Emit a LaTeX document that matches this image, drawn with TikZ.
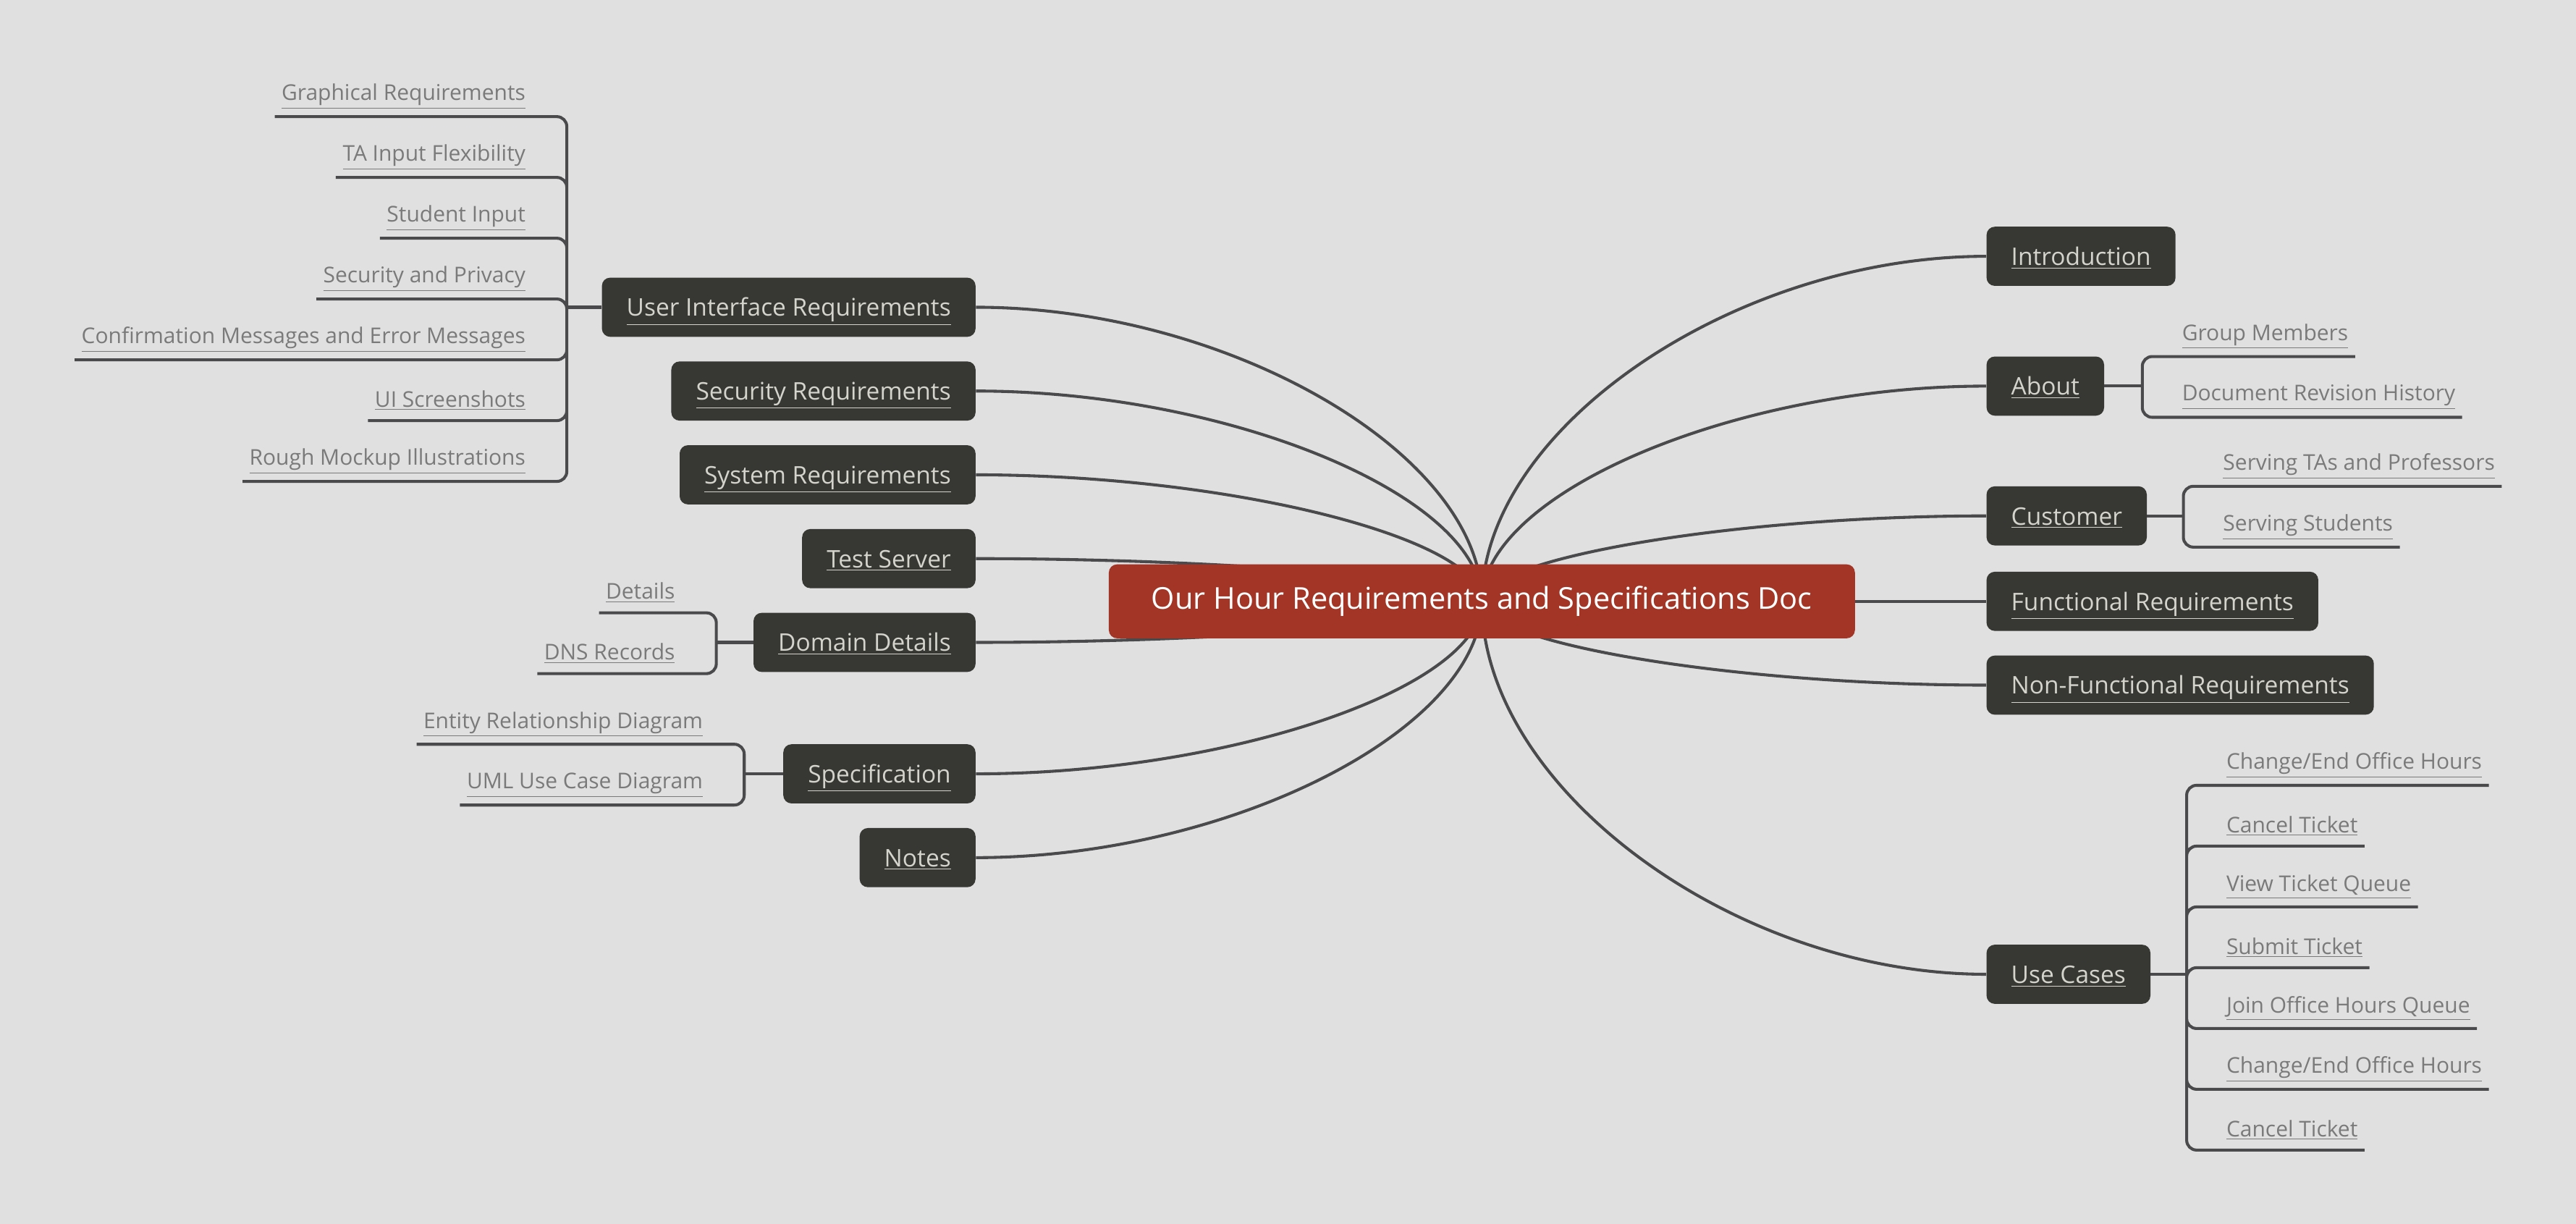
\documentclass[tikz,border=0pt]{standalone}
\usepackage{fontspec}
\setmainfont{Open Sans}
\usetikzlibrary{backgrounds,calc}
\definecolor{paper}{HTML}{E0E0E0}
\definecolor{rootred}{HTML}{A33526}
\definecolor{topicdark}{HTML}{373833}
\definecolor{linegray}{HTML}{4A4A4D}
\definecolor{topictext}{HTML}{D4D4CC}
\definecolor{leaftext}{HTML}{7A7A7A}
\tikzset{
  root/.style={fill=rootred, text=white, rounded corners=5pt, minimum height=45pt,
    inner xsep=26pt, font=\fontsize{18.3}{21}\selectfont},
  topic/.style={fill=topicdark, text=topictext, rounded corners=5pt, minimum height=36pt,
    inner xsep=15pt, text height=11pt, text depth=0pt, font=\fontsize{14.75}{17}\selectfont},
  leaf/.style={text=leaftext, minimum height=24pt, inner xsep=4pt, inner ysep=0pt,
    font=\fontsize{13.2}{15}\selectfont},
  link/.style={draw=linegray, line width=1.8pt},
  bracket/.style={draw=linegray, line width=1.8pt, rounded corners=6pt},
}
\newcommand{\ul}[1]{\underline{#1}}
\begin{document}
\begin{tikzpicture}[x=1pt, y=-1pt, line cap=butt]
    \begin{scope}[on background layer]
    \fill[paper] (0,0) rectangle (1568,745);
    \end{scope}
    \useasboundingbox (0,0) rectangle (1568,745);
    \node[root] (root) at (902,366) {Our Hour Requirements and Specifications Doc};
    \node[topic, anchor=west] (intro) at (1209,156) {\ul{Introduction}};
    \node[topic, anchor=west] (about) at (1209,235) {\ul{About}};
    \node[topic, anchor=west] (cust) at (1209,314) {\ul{Customer}};
    \node[topic, anchor=west] (func) at (1209,366) {\ul{Functional Requirements}};
    \node[topic, anchor=west] (nonfunc) at (1209,417) {\ul{Non-Functional Requirements}};
    \node[topic, anchor=west] (uc) at (1209,593) {\ul{Use Cases}};
    \node[topic, anchor=east] (ui) at (594,187) {\ul{User Interface Requirements}};
    \node[topic, anchor=east] (secr) at (594,238) {\ul{Security Requirements}};
    \node[topic, anchor=east] (sysr) at (594,289) {\ul{System Requirements}};
    \node[topic, anchor=east] (test) at (594,340) {\ul{Test Server}};
    \node[topic, anchor=east] (dom) at (594,391) {\ul{Domain Details}};
    \node[topic, anchor=east] (spec) at (594,471) {\ul{Specification}};
    \node[topic, anchor=east] (notes) at (594,522) {\ul{Notes}};
    \begin{scope}[on background layer]
    \foreach \t in {intro.west,about.west,cust.west,func.west,nonfunc.west,uc.west,
        ui.east,secr.east,sysr.east,test.east,dom.east,spec.east,notes.east}
      \draw[link] (root.center) .. controls ($(root.center)!0.5!(root.center |- \t)$)
        and ($(\t)!0.5!(root.center |- \t)$) .. (\t);
    \end{scope}
    % user interface
    \coordinate (uij) at (345,187);
    \node[leaf, anchor=south east] (ui1) at (324,71) {\ul{Graphical Requirements}};
    \node[leaf, anchor=south east] (ui2) at (324,108) {\ul{TA Input Flexibility}};
    \node[leaf, anchor=south east] (ui3) at (324,145) {\ul{Student Input}};
    \node[leaf, anchor=south east] (ui4) at (324,182) {\ul{Security and Privacy}};
    \node[leaf, anchor=south east] (ui5) at (324,219) {\ul{Confirmation Messages and Error Messages}};
    \node[leaf, anchor=south east] (ui6) at (324,256) {\ul{UI Screenshots}};
    \node[leaf, anchor=south east] (ui7) at (324,293) {\ul{Rough Mockup Illustrations}};
    \draw[link] (ui.west) -- (uij);
    \draw[bracket] (uij) |- (ui1.south west) (uij) |- (ui2.south west) (uij) |- (ui3.south west)
      (uij) |- (ui4.south west) (uij) |- (ui5.south west) (uij) |- (ui6.south west)
      (uij) |- (ui7.south west);
    % domain details
    \coordinate (domj) at (436,391);
    \node[leaf, anchor=south east] (dom1) at (415,373) {\ul{Details}};
    \node[leaf, anchor=south east] (dom2) at (415,410) {\ul{DNS Records}};
    \draw[link] (dom.west) -- (domj);
    \draw[bracket] (domj) |- (dom1.south west) (domj) |- (dom2.south west);
    % specification
    \coordinate (specj) at (453,471);
    \node[leaf, anchor=south east] (spec1) at (432,453) {\ul{Entity Relationship Diagram}};
    \node[leaf, anchor=south east] (spec2) at (432,490) {\ul{UML Use Case Diagram}};
    \draw[link] (spec.west) -- (specj);
    \draw[bracket] (specj) |- (spec1.south west) (specj) |- (spec2.south west);
    % about
    \coordinate (aboutj) at (1304,235);
    \node[leaf, anchor=south west] (about1) at (1324,217) {\ul{Group Members}};
    \node[leaf, anchor=south west] (about2) at (1324,254) {\ul{Document Revision History}};
    \draw[link] (about.east) -- (aboutj);
    \draw[bracket] (aboutj) |- (about1.south east) (aboutj) |- (about2.south east);
    % customer
    \coordinate (custj) at (1329,314);
    \node[leaf, anchor=south west] (cust1) at (1349,296) {\ul{Serving TAs and Professors}};
    \node[leaf, anchor=south west] (cust2) at (1349,333) {\ul{Serving Students}};
    \draw[link] (cust.east) -- (custj);
    \draw[bracket] (custj) |- (cust1.south east) (custj) |- (cust2.south east);
    % use cases
    \coordinate (ucj) at (1331,593);
    \node[leaf, anchor=south west] (uc1) at (1351,478) {\ul{Change/End Office Hours}};
    \node[leaf, anchor=south west] (uc2) at (1351,515) {\ul{Cancel Ticket}};
    \node[leaf, anchor=south west] (uc3) at (1351,552) {\ul{View Ticket Queue}};
    \node[leaf, anchor=south west] (uc4) at (1351,589) {\ul{Submit Ticket}};
    \node[leaf, anchor=south west] (uc5) at (1351,626) {\ul{Join Office Hours Queue}};
    \node[leaf, anchor=south west] (uc6) at (1351,663) {\ul{Change/End Office Hours}};
    \node[leaf, anchor=south west] (uc7) at (1351,700) {\ul{Cancel Ticket}};
    \draw[link] (uc.east) -- (ucj);
    \draw[bracket] (ucj) |- (uc1.south east) (ucj) |- (uc2.south east) (ucj) |- (uc3.south east)
      (ucj) |- (uc4.south east) (ucj) |- (uc5.south east) (ucj) |- (uc6.south east)
      (ucj) |- (uc7.south east);
\end{tikzpicture}
\end{document}
